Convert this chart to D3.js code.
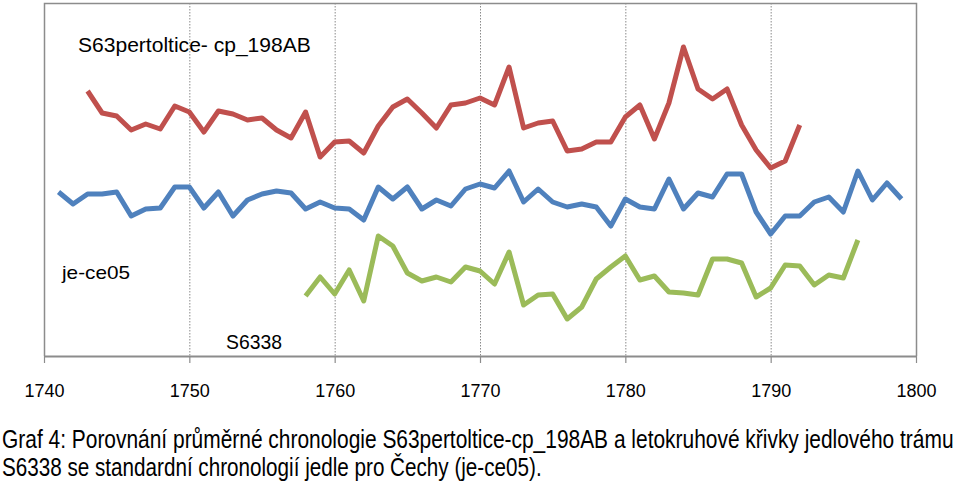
<!DOCTYPE html>
<html>
<head>
<meta charset="utf-8">
<script src="https://cdn.jsdelivr.net/npm/d3@7"></script>
<style>
  html, body { margin: 0; padding: 0; background: #fff; }
  svg { display: block; }
  text { font-family: "Liberation Sans", Arial, sans-serif; fill: #000; }
</style>
</head>
<body>
<svg id="chart" width="960" height="488"></svg>
<script>
// Years (x) and series values (relative index)
const xTicks = [1740, 1750, 1760, 1770, 1780, 1790, 1800];
const gridYears = [1750, 1760, 1770, 1780, 1790];

const redStart = 1743; // S63pertoltice-cp_198AB
const redValues = [265, 243, 240, 226, 232, 227, 250, 244, 224, 245, 242, 236, 238, 226, 218, 244, 199, 214, 215, 203,
  230, 249, 257, 243, 228, 251, 253, 258, 251, 289, 228, 233, 235, 205, 207, 214, 214, 239, 251, 217, 253, 309,
  267, 257, 267, 231, 206, 188, 195, 231];

const blueStart = 1741; // je-ce05
const blueValues = [164, 152, 162, 162, 164, 140, 147, 148, 169, 169, 148, 164, 140, 156, 162, 165, 163, 147, 154, 148,
  147, 136, 169, 157, 169, 147, 156, 150, 167, 172, 168, 185, 154, 167, 154, 149, 152, 149, 130, 157, 149, 147,
  177, 147, 163, 159, 182, 182, 144, 122, 140, 140, 154, 159, 144, 185, 156, 173, 157];

const greenStart = 1758; // S6338
const greenValues = [60, 79, 62, 86, 55, 120, 110, 83, 75, 79, 74, 89, 85, 72, 104, 51, 61, 62, 37, 49, 77, 89, 100, 76, 80,
  64, 63, 61, 97, 97, 93, 59, 68, 91, 90, 71, 81, 78, 116];

const seriesLabels = ["S63pertoltice- cp_198AB", "je-ce05", "S6338"];
const captionLines = [
  "Graf 4: Porovnání průměrné chronologie S63pertoltice-cp_198AB a letokruhové křivky jedlového trámu",
  "S6338 se standardní chronologií jedle pro Čechy (je-ce05)."
];

const series = [
  { start: redStart, values: redValues, color: "#C0504D" },
  { start: blueStart, values: blueValues, color: "#4F81BD" },
  { start: greenStart, values: greenValues, color: "#9BBB59" }
];

const svg = d3.select("#chart");
const pLeft = 44, pRight = 916, pTop = 3, pBottom = 356;

const x = d3.scaleLinear().domain([1740, 1800]).range([pLeft, pRight]);
const y = d3.scaleLinear().domain([0, 353]).range([pBottom, pTop]);

// gridlines
svg.append("g").selectAll("line").data(gridYears).join("line")
  .attr("x1", d => x(d) + 0.5).attr("x2", d => x(d) + 0.5)
  .attr("y1", pTop).attr("y2", pBottom)
  .attr("stroke", "#8a8a8a").attr("stroke-width", 1).attr("stroke-dasharray", "1.5,1.5");

// frame (top, left, right)
svg.append("path")
  .attr("d", `M${pLeft + 0.5},${pBottom} V${pTop + 0.5} H${pRight + 0.5} V${pBottom}`)
  .attr("fill", "none").attr("stroke", "#8c8c8c").attr("stroke-width", 1.5);

// lines
const line = d3.line().x(d => x(d.year)).y(d => y(d.v));
series.forEach(s => {
  const pts = s.values.map((v, i) => ({ year: s.start + i, v }));
  svg.append("path").datum(pts)
    .attr("d", line)
    .attr("fill", "none")
    .attr("stroke", s.color)
    .attr("stroke-width", 5)
    .attr("stroke-linejoin", "round")
    .attr("stroke-linecap", "butt");
});

// x axis
const axis = d3.axisBottom(x).tickValues(xTicks).tickFormat(d3.format("d"))
  .tickSize(7).tickPadding(21).tickSizeOuter(0);
const gx = svg.append("g").attr("transform", `translate(0,${pBottom})`).call(axis);
gx.select(".domain").attr("stroke", "#8c8c8c").attr("stroke-width", 2);
gx.selectAll(".tick line").attr("stroke", "#8c8c8c").attr("stroke-width", 1.2);
gx.selectAll(".tick text")
  .style("font-family", '"Liberation Sans", Arial, sans-serif')
  .style("font-size", "18px").attr("fill", "#000");

// helper: draw text at (x0, baseline) horizontally scaled to a target width
function fitText(str, x0, yb, size, width) {
  const g = svg.append("g").attr("transform", `translate(${x0},${yb})`);
  const t = g.append("text").attr("x", 0).attr("y", 0).style("font-size", size + "px").text(str);
  const natural = t.node().getComputedTextLength();
  t.attr("transform", `scale(${width / natural},1)`);
  return t;
}

// series labels
fitText(seriesLabels[0], 78, 52, 20.5, 233);
fitText(seriesLabels[1], 62, 279, 19, 68);
fitText(seriesLabels[2], 226, 349, 20, 56);

// caption
fitText(captionLines[0], 2, 448, 25, 952);
fitText(captionLines[1], 2, 476, 25, 540);
</script>
</body>
</html>
